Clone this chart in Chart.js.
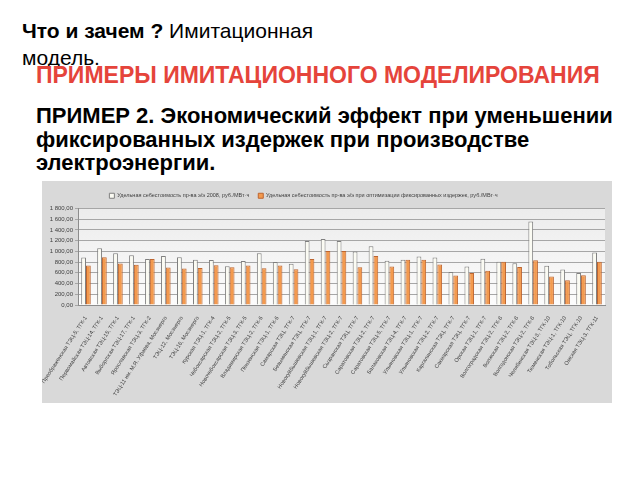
<!DOCTYPE html>
<html>
<head>
<meta charset="utf-8">
<script src="https://cdn.jsdelivr.net/npm/chart.js@4"></script>
<style>
  html, body { margin:0; padding:0; background:#ffffff; }
  body { width:640px; height:480px; position:relative; overflow:hidden; font-family:"Liberation Sans", Arial, sans-serif; }
  #t1 { position:absolute; left:22px; top:17px; font-size:21px; line-height:27px; width:310px; color:#000; }
  #t2 { position:absolute; left:36px; top:62px; font-size:23px; font-weight:bold; color:#e5443b; white-space:nowrap; }
  #t3 { position:absolute; left:36px; top:104px; font-size:22px; line-height:23.5px; font-weight:bold; color:#000; white-space:nowrap; }
  #box { position:absolute; left:42px; top:181px; width:570px; height:222px; background:#d9d9d9; }
  #c { display:block; }
</style>
</head>
<body>
<div id="t1"><b>Что и зачем ?</b> Имитационная модель.</div>
<div id="t2">ПРИМЕРЫ ИМИТАЦИОННОГО МОДЕЛИРОВАНИЯ</div>
<div id="t3">ПРИМЕР 2. Экономический эффект при уменьшении<br>фиксированных издержек при производстве<br>электроэнергии.</div>
<div id="box"><canvas id="c" width="570" height="222"></canvas></div>
<script>
const categories = [
  "Преображенская ТЭЦ-5, ТГК-1",
  "Первомайская ТЭЦ-14, ТГК-1",
  "Автовская ТЭЦ-15, ТГК-1",
  "Выборгская ТЭЦ-17, ТГК-1",
  "Ярославская ТЭЦ-3, ТГК-2",
  "ТЭЦ-11 им. М.Я. Уфаева, Мосэнерго",
  "ТЭЦ-12, Мосэнерго",
  "ТЭЦ-16, Мосэнерго",
  "Курская ТЭЦ-1, ТГК-4",
  "Чебоксарская ТЭЦ-2, ТГК-5",
  "Новочебоксарская ТЭЦ-3, ТГК-5",
  "Владимирская ТЭЦ-2, ТГК-6",
  "Пензенская ТЭЦ-1, ТГК-6",
  "Самарская ТЭЦ, ТГК-7",
  "Безымянская ТЭЦ, ТГК-7",
  "Новокуйбышевская ТЭЦ-1, ТГК-7",
  "Новокуйбышевская ТЭЦ-2, ТГК-7",
  "Сызранская ТЭЦ, ТГК-7",
  "Саратовская ТЭЦ-2, ТГК-7",
  "Саратовская ТЭЦ-5, ТГК-7",
  "Балаковская ТЭЦ-4, ТГК-7",
  "Ульяновская ТЭЦ-1, ТГК-7",
  "Ульяновская ТЭЦ-2, ТГК-7",
  "Каргалинская ТЭЦ, ТГК-7",
  "Сакмарская ТЭЦ, ТГК-7",
  "Орская ТЭЦ-1, ТГК-7",
  "Волгоградская ТЭЦ-2, ТГК-8",
  "Волжская ТЭЦ-2, ТГК-8",
  "Волгодонская ТЭЦ-2, ТГК-8",
  "Челябинская ТЭЦ-3, ТГК-10",
  "Тюменская ТЭЦ-1, ТГК-10",
  "Тобольская ТЭЦ, ТГК-10",
  "Омская ТЭЦ-3, ТГК-11"
];
const cost2008 = [885,1058,967,929,858,916,890,846,839,724,822,964,804,769,1192,1231,1192,1000,1096,826,846,904,885,615,717,865,807,781,1557,730,660,596,980];
const costOptimized = [737,890,775,750,858,698,679,692,743,705,737,685,737,666,858,1006,1006,705,916,717,846,846,756,550,596,640,807,711,833,531,461,557,807];
const seriesNames = [
  "Удельная себестоимость пр-ва э/э 2008, руб./МВт·ч",
  "Удельная себестоимость пр-ва э/э при оптимизации фиксированных издержек, руб./МВт·ч"
];
const yTickValues = [0,200,400,600,800,1000,1200,1400,1600,1800];

function fmtRu(v) {
  const s = Number(v).toFixed(2).split('.');
  const intPart = s[0].replace(/\B(?=(\d{3})+(?!\d))/g, ' ');
  return intPart + ',' + s[1];
}

const plotBg = {
  id: 'plotBg',
  beforeDraw(chart) {
    const {ctx, chartArea:a} = chart;
    const g = ctx.createLinearGradient(0, a.top, 0, a.bottom);
    g.addColorStop(0, '#ececec');
    g.addColorStop(1, '#fcfcfc');
    ctx.save();
    ctx.fillStyle = g;
    ctx.fillRect(a.left, a.top, a.right - a.left, a.bottom - a.top);
    ctx.restore();
  }
};

const legendShift = {
  id: 'legendShift',
  afterLayout(chart) {
    if (chart.legend) { chart.legend.left -= 20; chart.legend.right -= 20; }
  }
};

const FONT = '"Liberation Sans", Arial, sans-serif';

new Chart(document.getElementById('c'), {
  type: 'bar',
  data: {
    labels: categories,
    datasets: [
      { label: seriesNames[0], data: cost2008, backgroundColor: '#fbfbf3', borderColor: '#7f7f7f', borderWidth: 1, categoryPercentage: 0.6, barPercentage: 1.0 },
      { label: seriesNames[1], data: costOptimized, backgroundColor: '#f39a4e', borderColor: '#bd6530', borderWidth: 1, categoryPercentage: 0.6, barPercentage: 1.0 }
    ]
  },
  options: {
    responsive: false,
    animation: false,
    layout: { padding: { top: 3, right: 7, left: 0, bottom: 0 } },
    plugins: {
      legend: {
        position: 'top',
        labels: { font: { size: 5.5, family: FONT }, color: '#404040', boxWidth: 5, boxHeight: 5, padding: 9 }
      },
      tooltip: { enabled: false }
    },
    scales: {
      x: {
        grid: { display: false },
        border: { color: '#8c8c8c' },
        ticks: { autoSkip: false, maxRotation: 57, minRotation: 57, font: { size: 5.5, family: FONT }, color: '#404040', padding: 2 },
        afterFit(scale) { scale.height = 98; scale.paddingLeft = 0; scale.paddingRight = 0; }
      },
      y: {
        min: 0, max: 1800,
        afterBuildTicks(scale) { scale.ticks = yTickValues.map(v => ({ value: v })); },
        grid: { color: '#a6a6a6', drawTicks: true, tickLength: 3 },
        border: { color: '#8c8c8c' },
        ticks: { font: { size: 6, family: FONT }, color: '#404040', padding: 2, callback: v => fmtRu(v) },
        afterFit(scale) { scale.width = 36; scale.paddingTop = 0; scale.paddingBottom = 0; }
      }
    }
  },
  plugins: [plotBg, legendShift]
});
</script>
</body>
</html>
